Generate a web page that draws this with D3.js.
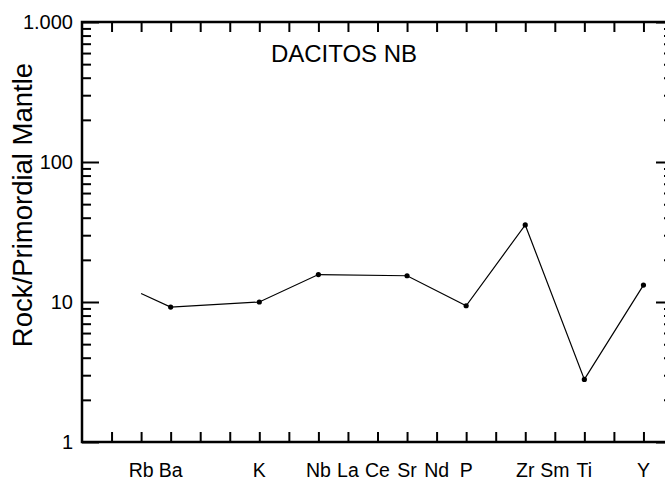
<!DOCTYPE html>
<html>
<head>
<meta charset="utf-8">
<script src="https://cdn.jsdelivr.net/npm/d3@7"></script>
<style>
  html, body { margin: 0; padding: 0; background: #fff; }
  svg { display: block; }
  text { font-family: "Liberation Sans", Arial, Helvetica, sans-serif; fill: #000; }
</style>
</head>
<body>
<svg id="chart" width="665" height="480"></svg>
<script>
// ---- data ----
const elements = ["Rb", "Ba", "K", "Nb", "La", "Ce", "Sr", "Nd", "P", "Zr", "Sm", "Ti", "Y"];
const elementSlots = [2, 3, 6, 8, 9, 10, 11, 12, 13, 15, 16, 17, 19];
const values = [11.5, 9.2, 10.0, 15.7, null, null, 15.4, null, 9.4, 35.5, null, 2.8, 13.2];
const yTickValues = [1, 10, 100, 1000];
const yTickLabels = ["1", "10", "100", "1.000"];
const chartTitle = "DACITOS NB";
const yTitle = "Rock/Primordial Mantle";

// ---- layout ----
const svg = d3.select("#chart");
const pLeft = 82, pRight = 673, pTop = 22, pBottom = 442;

const x = d3.scaleLinear().domain([0, 20]).range([pLeft, pRight]);
const y = d3.scaleLog().domain([1, 1000]).range([pBottom, pTop]);

const xTicks = d3.range(1, 20);
const minorY = [];
for (let d = 1; d < 1000; d *= 10) for (let m = 2; m <= 9; m++) minorY.push(d * m);

const fmt = v => yTickLabels[yTickValues.indexOf(v)];

// left axis: inward ticks with labels
const gl = svg.append("g").attr("transform", `translate(${pLeft},0)`);
gl.call(d3.axisRight(y).tickValues(yTickValues).tickSize(17).tickFormat(""));
gl.append("g").call(d3.axisRight(y).tickValues(minorY).tickSize(9).tickFormat(""));
gl.selectAll(".domain").remove();
gl.selectAll("line").attr("stroke", "#000").attr("stroke-width", 2);
gl.selectAll(".ylab").data(yTickValues).join("text")
  .attr("class", "ylab")
  .attr("x", -9).attr("y", d => y(d)).attr("dy", "0.36em")
  .attr("text-anchor", "end").attr("font-size", 20)
  .text(fmt);

// right axis (mostly off-canvas)
const gr = svg.append("g").attr("transform", `translate(${pRight},0)`);
gr.call(d3.axisLeft(y).tickValues(yTickValues).tickSize(17).tickFormat(""));
gr.append("g").call(d3.axisLeft(y).tickValues(minorY).tickSize(9).tickFormat(""));
gr.selectAll(".domain").remove();
gr.selectAll("line").attr("stroke", "#000").attr("stroke-width", 2);

// bottom axis: ticks pointing up
const gb = svg.append("g").attr("transform", `translate(0,${pBottom})`);
gb.call(d3.axisTop(x).tickValues(xTicks).tickSize(10).tickFormat(""));
gb.selectAll(".domain").remove();
gb.selectAll("line").attr("stroke", "#000").attr("stroke-width", 2);
gb.selectAll(".xlab").data(elements).join("text")
  .attr("class", "xlab")
  .attr("x", (d, i) => x(elementSlots[i])).attr("y", 34.5)
  .attr("text-anchor", "middle").attr("font-size", 19.5)
  .text(d => d);

// top axis: ticks pointing down
const gt = svg.append("g").attr("transform", `translate(0,${pTop})`);
gt.call(d3.axisBottom(x).tickValues(xTicks).tickSize(10).tickFormat(""));
gt.selectAll(".domain").remove();
gt.selectAll("line").attr("stroke", "#000").attr("stroke-width", 2);

// frame
svg.append("rect")
  .attr("x", pLeft).attr("y", pTop)
  .attr("width", pRight - pLeft).attr("height", pBottom - pTop)
  .attr("fill", "none").attr("stroke", "#000").attr("stroke-width", 2.5);

// ---- titles ----
svg.append("text")
  .attr("x", 344).attr("y", 62)
  .attr("text-anchor", "middle").attr("font-size", 24)
  .text(chartTitle);

svg.append("text")
  .attr("transform", `translate(32,205) rotate(-90)`)
  .attr("text-anchor", "middle").attr("font-size", 27.5)
  .text(yTitle);

// ---- data line ----
const pts = elements.map((e, i) => ({ e, slot: elementSlots[i], v: values[i], i }))
  .filter(d => d.v != null);

const line = d3.line().x(d => x(d.slot)).y(d => y(d.v));
svg.append("path")
  .datum(pts)
  .attr("d", line)
  .attr("fill", "none").attr("stroke", "#000").attr("stroke-width", 1.2);

svg.selectAll(".pt").data(pts.filter(d => d.i > 0)).join("circle")
  .attr("class", "pt")
  .attr("cx", d => x(d.slot)).attr("cy", d => y(d.v))
  .attr("r", 2.6).attr("fill", "#000");
</script>
</body>
</html>
